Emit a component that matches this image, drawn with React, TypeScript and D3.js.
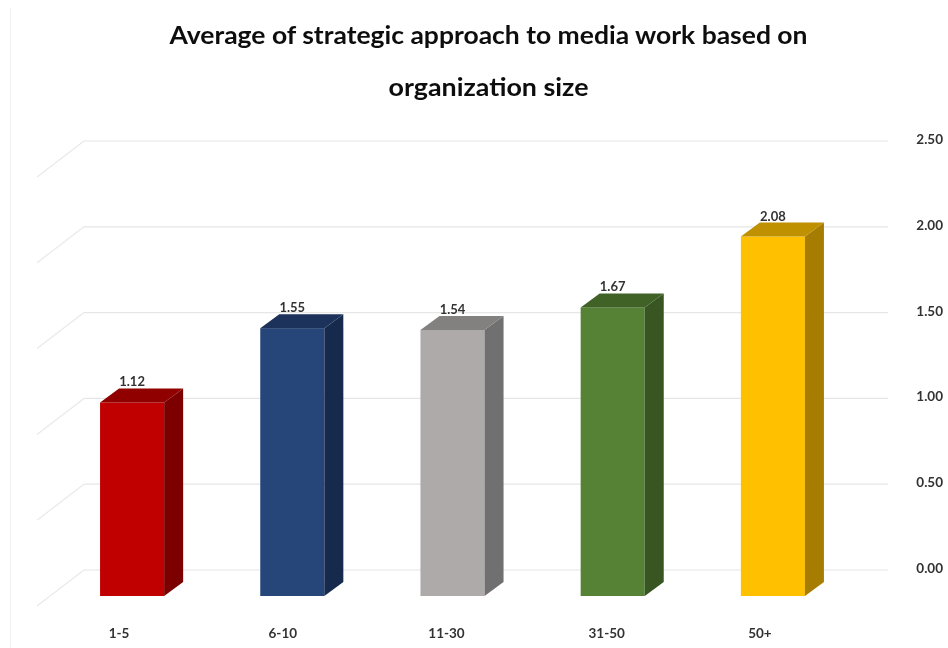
import * as d3 from 'd3';
import React from 'react';

const categories = ['1-5', '6-10', '11-30', '31-50', '50+'];
const values = [1.12, 1.55, 1.54, 1.67, 2.08];
const barColors = ['#c00000', '#254478', '#aeaaaa', '#548235', '#ffc000'];
const yTicks = [0, 0.5, 1, 1.5, 2, 2.5];
const titleLines = ['Average of strategic approach to media work based on', 'organization size'];

const width = 948;
const height = 648;
const font = 'Lato, sans-serif';

// the floor of the 3d box: front edge, bars sit half way back
const wallDx = 47;
const wallDy = 36;
const barDx = 19;
const barDy = 14;

const x = d3.scaleBand<string>().domain(categories).range([52, 853]).paddingInner(0.6).paddingOuter(0.3);
// bars are measured on their front face, gridlines on the back wall
const y = d3.scaleLinear().domain([0, 2.5]).range([596, 164]);
const wallY = d3.scaleLinear().domain([0, 2.5]).range([570, 141]);

const shade = (c: string, k: number) => {
  const { r, g, b } = d3.rgb(c);
  return d3.rgb(r * k, g * k, b * k).toString();
};

const App: React.FC = () => {
  const line = d3.line();
  return (
    <svg
      width={width}
      height={height}
      style={{ position: 'absolute', left: 0, top: 0, background: '#fff' }}
      fontFamily={font}
    >
      <defs>
        <filter id="soft" x="-5%" y="-5%" width="110%" height="110%">
          <feGaussianBlur stdDeviation={0.45} />
        </filter>
      </defs>
      <g filter="url(#soft)">
        <line x1={10.5} x2={10.5} y1={8} y2={height} stroke="#efefef" />

        {titleLines.map((t, i) => (
          <text
            key={t}
            x={488.5}
            y={44 + i * 52}
            textAnchor="middle"
            fontSize={24}
            fontWeight={700}
            fill="#111"
            textLength={i === 0 ? 638 : 200}
            lengthAdjust="spacingAndGlyphs"
          >
            {t}
          </text>
        ))}

        {yTicks.map((t) => (
          <g key={t}>
            <path
              d={line([
                [84, wallY(t)],
                [84 - wallDx, wallY(t) + wallDy],
              ])!}
              stroke="#e9e9e9"
              strokeWidth={1.2}
              fill="none"
            />
            <line x1={84} x2={888} y1={wallY(t)} y2={wallY(t)} stroke="#e6e6e6" strokeWidth={1.2} />
            <text x={943} y={wallY(t) + 3} textAnchor="end" fontSize={13.5} fontWeight={700} fill="#333">
              {t.toFixed(2)}
            </text>
          </g>
        ))}

        {categories.map((c, i) => {
          const x0 = x(c)!;
          const bw = x.bandwidth();
          const top = y(values[i]);
          const base = y(0);
          return (
            <g key={c}>
              <rect x={x0} y={top} width={bw} height={base - top} fill={barColors[i]} />
              <path
                d={line([
                  [x0 + bw, top],
                  [x0 + bw + barDx, top - barDy],
                  [x0 + bw + barDx, base - barDy],
                  [x0 + bw, base],
                ])! + 'Z'}
                fill={shade(barColors[i], 0.65)}
              />
              <path
                d={line([
                  [x0, top],
                  [x0 + barDx, top - barDy],
                  [x0 + bw + barDx, top - barDy],
                  [x0 + bw, top],
                ])! + 'Z'}
                fill={shade(barColors[i], 0.75)}
              />
              <text
                x={x0 + bw / 2}
                y={top - 16}
                textAnchor="middle"
                fontSize={13}
                fontWeight={700}
                fill="#333"
              >
                {values[i].toFixed(2)}
              </text>
              <text x={x0 + bw / 2 - 13 + (c.length - 3) * 3.5} y={638} textAnchor="middle" fontSize={13.5} fontWeight={700} fill="#333">
                {c}
              </text>
            </g>
          );
        })}
      </g>
    </svg>
  );
};

export default App;
